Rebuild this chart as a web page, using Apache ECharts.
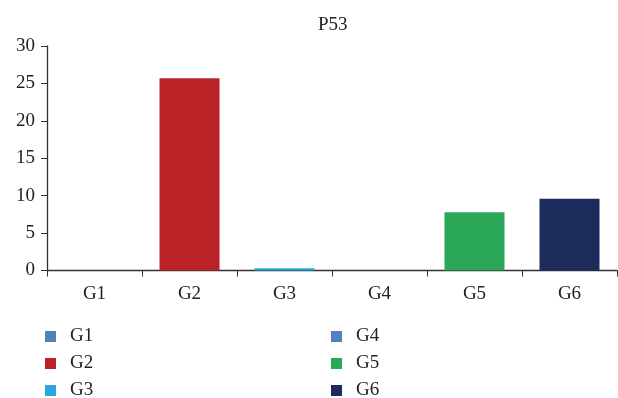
<!DOCTYPE html>
<html><head><meta charset="utf-8">
<script src="https://cdn.jsdelivr.net/npm/echarts@6/dist/echarts.min.js"></script>
<style>html,body{margin:0;padding:0;background:#fff}#c{width:618px;height:398px}</style>
</head><body><div id="c"></div>
<script>
const categories = ['G1','G2','G3','G4','G5','G6'];
const values = [0, 25.7, 0.3, 0, 7.8, 9.6];
const colors = ['#5181b8','#b92327','#29a8e0','#5181b8','#2aa857','#1c2a5c'];
const yTicks = [0, 5, 10, 15, 20, 25, 30];
const font = 'Liberation Serif';

const series = categories.map((name, i) => ({
  name: name,
  type: 'bar',
  stack: 'all',
  barWidth: 60,
  itemStyle: { color: colors[i] },
  data: categories.map((c, j) => j === i ? values[i] : '-')
}));

const legendText = { fontFamily: font, fontSize: 19, lineHeight: 19, color: '#222', padding: [0,0,0,9] };

const chart = echarts.init(document.getElementById('c'));
chart.setOption({
  animation: false,
  title: { text: 'P53', left: 313, top: 11, textStyle: { fontFamily: font, fontSize: 19, fontWeight: 'normal', color: '#222' } },
  grid: { left: 47, right: 1, top: 46, bottom: 127.5 },
  xAxis: {
    type: 'category', data: categories,
    axisLine: { lineStyle: { color: '#333', width: 1.3 } },
    axisTick: { show: true, length: 6, lineStyle: { color: '#333' } },
    axisLabel: { fontFamily: font, fontSize: 19, color: '#222', margin: 14 }
  },
  yAxis: {
    type: 'value', min: yTicks[0], max: yTicks[yTicks.length-1], interval: 5,
    axisLine: { show: true, lineStyle: { color: '#333', width: 1.3 } },
    axisTick: { show: true, length: 6, lineStyle: { color: '#333' } },
    splitLine: { show: false },
    axisLabel: { fontFamily: font, fontSize: 19, color: '#222', margin: 12 }
  },
  legend: [
    { data: ['G1','G2','G3'], orient: 'vertical', left: 40, top: 322, height: 80, itemWidth: 11, itemHeight: 11, itemGap: 8, icon: 'rect',
      textStyle: legendText },
    { data: ['G4','G5','G6'], orient: 'vertical', left: 326, top: 322, height: 80, itemWidth: 11, itemHeight: 11, itemGap: 8, icon: 'rect',
      textStyle: legendText }
  ],
  series: series
});
</script></body></html>
